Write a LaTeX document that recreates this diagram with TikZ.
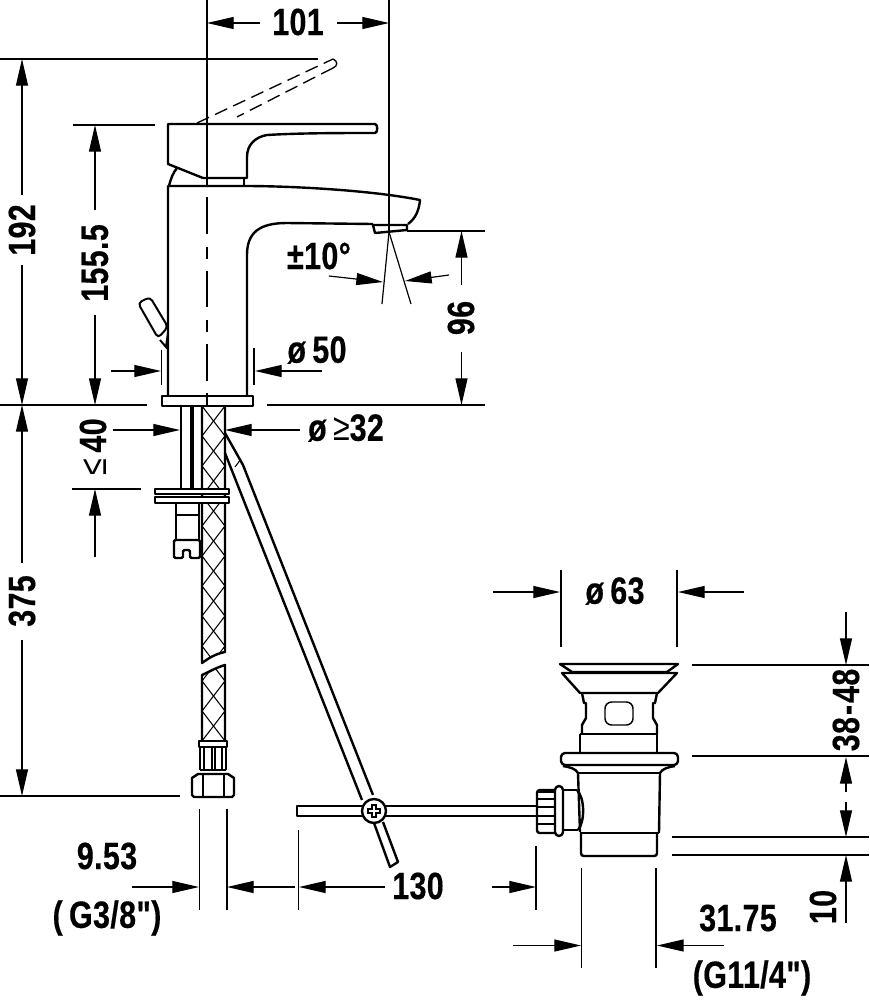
\documentclass[tikz,border=0pt]{standalone}
\usepackage{fontspec}
\setmainfont{Liberation Sans}[Ligatures=TeXOff,FakeStretch=0.8,LetterSpace=1,BoldFeatures={FakeBold=0.4}]
\usetikzlibrary{arrows.meta}
\newcommand{\dimfont}{\fontsize{28.5}{30}\selectfont\bfseries}
\tikzset{
  part/.style={line width=1.8pt,line join=round},
  fine/.style={line width=0.8pt},
  extline/.style={line width=0.9pt},
  dimarrow/.style={line width=0.9pt,-{Triangle[length=20pt,width=9pt]}},
  dimtext/.style={font=\dimfont,inner sep=0pt},
}
\begin{document}
\begin{tikzpicture}[x=0.75pt,y=0.75pt,yscale=-1,xscale=1]
\useasboundingbox (0,0) rectangle (869,1000);

%Extension lines, tap
\draw [extline] (207,0) -- (207,186);
\draw [extline] (389,0) -- (389,232);
\draw [extline] (0,59) -- (318,59);
\draw [extline] (73,125) -- (155,125);
\draw [extline] (0,405) -- (147,405);
\draw [extline] (267,405) -- (485,405);
\draw [extline] (407,231) -- (485,231);
\draw [extline] (161.5,350) -- (161.5,385);
\draw [extline] (254,348) -- (254,385);
\draw [extline] (389,232) -- (382,304);
\draw [extline] (389,232) -- (411,304);
\draw [extline] (72,489) -- (141,489);
\draw [extline] (0,796) -- (180,796);
%Centre line
\draw [extline] (207,197) -- (207,234);
\draw [extline] (207,247) -- (207,259);
\draw [extline] (207,271) -- (207,307);
\draw [extline] (207,320) -- (207,332);
\draw [extline] (207,344) -- (207,381);
\draw [extline] (207,393) -- (207,405);

%Handle, raised position
\draw [fine,line width=1pt,dash pattern={on 10pt off 5pt}] (197,123) -- (333,59);
\draw [fine,line width=1pt] (333,59) .. controls (338,61) and (338,66) .. (333,68);
\draw [fine,line width=1pt,dash pattern={on 10pt off 5pt}] (333,68) -- (237,117);
%Handle
\draw [part] (168,124) -- (375,124) .. controls (378,124) and (378,133) .. (375,133) .. controls (340,133) and (300,133) .. (267,135) .. controls (255,137) and (247,145) .. (247,157) -- (247,178) -- (203,178) -- (168,164) -- cycle;
\draw [part] (244,178) -- (244,186);
\draw [part] (169,186) .. controls (171,178) and (173,173) .. (177,168);
%Body and spout
\draw [part] (247,396) -- (247,255) .. controls (247,232) and (260,223) .. (287,223) -- (373,224);
\draw [part] (168,396) -- (168,186) -- (245,186) .. controls (290,186) and (370,190) .. (420,200) .. controls (419,210) and (416,218) .. (408,224);
\draw [part] (373,225) -- (375,233) -- (407,230) -- (407,225) -- cycle;
\draw [part] (162,396) rectangle (253,406);
%Lift rod knob
\draw [line width=1.5pt,line join=round,rounded corners=3pt] (138,303) -- (150,297) -- (168,327) -- (158,338) -- cycle;
\draw [line width=1.5pt] (160,340) -- (166,347) -- (168,333);

%Rods under the base
\draw [part] (181,406) -- (181,489);
\draw [part] (191,406) -- (191,489);
\draw [part] (193,406) -- (193,489);
%Braided hose
\begin{scope}
\clip (202,406) -- (225,406) -- (225,652) .. controls (215,654) and (209,658) .. (202,663) -- cycle;
\draw [fine] (202,406) -- (225,436) -- (202,466) -- (225,496) -- (202,526) -- (225,556) -- (202,586) -- (225,616) -- (202,646) -- (225,676);
\draw [fine] (225,406) -- (202,436) -- (225,466) -- (202,496) -- (225,526) -- (202,556) -- (225,586) -- (202,616) -- (225,646) -- (202,676);
\end{scope}
\begin{scope}
\clip (202,675) .. controls (209,672) and (215,668) .. (225,665) -- (225,741) -- (202,741) -- cycle;
\draw [fine] (202,651) -- (225,681) -- (202,711) -- (225,741);
\draw [fine] (225,651) -- (202,681) -- (225,711) -- (202,741);
\end{scope}
\draw [part] (202,406) -- (202,663) .. controls (209,658) and (215,654) .. (225,652) -- (225,406);
\draw [part] (202,741) -- (202,675) .. controls (209,672) and (215,668) .. (225,665) -- (225,741);
%Washers
\draw [part,fill=white] (155,489) rectangle (229,494);
\draw [part,fill=white] (155,497) rectangle (229,503);
%Threaded stud
\draw [part] (176,503) -- (176,540);
\draw [part] (199,503) -- (199,540);
\draw [fine] (176,515) -- (199,515);
\draw [part,rounded corners=1pt] (174,540) -- (200,540) -- (200,558) -- (190,558) -- (190,550) -- (183,550) -- (183,558) -- (174,558) -- cycle;
%Hose connection
\draw [part] (199,741) rectangle (227,747);
\draw [part] (200,747) -- (200,770);
\draw [fine] (204,747) -- (204,770);
\draw [part] (212,747) -- (212,770);
\draw [part] (215,747) -- (215,770);
\draw [fine] (222,747) -- (222,770);
\draw [part] (226,747) -- (226,770);
\draw [part] (200,770) -- (226,770);
\draw [part] (198,774) -- (228,774) -- (234,778) -- (234,795) -- (232,797) -- (194,797) -- (192,795) -- (192,778) -- cycle;
\draw [fine] (203,774) -- (203,797);
\draw [fine] (224,774) -- (224,797);

%Pop-up rod
\draw [part] (225,433) -- (243,465) -- (373,795);
\draw [part] (225,453) -- (362,800);
\draw [fine] (235,467) -- (241,459);
\draw [part] (374,823) -- (390,867) -- (398,862) -- (383,822);
\draw [part] (362,806) -- (297,806) -- (297,816) -- (362,816);
\draw [part] (386,806) -- (536,806);
\draw [part] (386,816) -- (536,816);
%Screw
\draw [part,fill=white] (374,811) circle [radius=12];
\draw [fine,line width=1pt] (372,805) -- (376,805) -- (376,809) -- (380,809) -- (380,813) -- (376,813) -- (376,817) -- (372,817) -- (372,813) -- (368,813) -- (368,809) -- (372,809) -- cycle;

%Plug
\draw [part] (560,664) -- (678,664) -- (667,672) -- (572,672) -- cycle;
\draw [part] (562,673) -- (677,673) -- (658,693) -- (580,693) -- cycle;
\draw [part] (582,693) -- (584,703) -- (586,703) -- (586,718) -- (582,725) -- (582,734);
\draw [part] (657,693) -- (655,703) -- (653,703) -- (653,718) -- (657,725) -- (657,734);
\draw [fine,line width=1.1pt,rounded corners=5pt] (605,702) rectangle (633,725);
\draw [part] (580,734) -- (657,734);
\draw [part] (580,734) -- (580,753);
\draw [part] (657,734) -- (657,753);
%Flange
\draw [part,rounded corners=3pt] (561,765) -- (561,753) -- (678,753) -- (678,765) -- cycle;
\draw [part] (563,766) .. controls (570,767) and (576,769) .. (578,773) -- (580,832);
\draw [part] (675,766) .. controls (668,767) and (662,769) .. (660,773) -- (659,833);
\draw [fine,line width=1.1pt] (578,773) -- (660,773);
\draw [fine,line width=1.1pt] (580,833) -- (659,833);
\draw [part,rounded corners=2pt] (581,833) -- (581,856) -- (657,856) -- (657,833);
%Side outlet
\draw [part] (577,790) -- (563,790);
\draw [part] (578,830) -- (563,830);
\draw [part] (577,790) .. controls (585,798) and (585,822) .. (578,830);
\draw [part,rounded corners=3pt] (555,786) rectangle (563,836);
\draw [part,rounded corners=2pt] (555,790) -- (537,790) -- (537,833) -- (555,833);
\draw [part] (537,792) -- (555,792);
\draw [fine] (537,799) -- (555,799);
\draw [fine] (537,807) -- (555,807);
\draw [fine] (537,816) -- (555,816);
\draw [fine] (537,824) -- (555,824);

%Extension lines, waste
\draw [extline] (561,570) -- (561,647);
\draw [extline] (677,570) -- (677,647);
\draw [extline] (692,665) -- (869,665);
\draw [extline] (692,756) -- (869,756);
\draw [extline] (672,837) -- (869,837);
\draw [extline] (672,855) -- (869,855);
\draw [extline] (199.5,809) -- (199.5,910);
\draw [extline] (227,809) -- (227,910);
\draw [extline] (298.5,830) -- (298.5,910);
\draw [extline] (536,846) -- (536,910);
\draw [extline] (581.5,868) -- (581.5,968);
\draw [extline] (656,868) -- (656,968);

%Dimension arrows
\draw [dimarrow] (260,23) -- (207,23);
\draw [dimarrow] (337,23) -- (389,23);
\draw [dimarrow] (22,195) -- (22,59);
\draw [dimarrow] (22,265) -- (22,405);
\draw [dimarrow] (95,210) -- (95,125);
\draw [dimarrow] (95,315) -- (95,405);
\draw [dimarrow] (329,276) -- (383,282);
\draw [dimarrow] (449,275) -- (405,281);
\draw [dimarrow] (461.5,285) -- (461.5,231);
\draw [dimarrow] (461.5,352) -- (461.5,405);
\draw [dimarrow] (111,371) -- (161,371);
\draw [dimarrow] (322,371) -- (255,371);
\draw [dimarrow] (113,430) -- (180,430);
\draw [dimarrow] (300,430) -- (225,430);
\draw [dimarrow] (95,557) -- (95,489);
\draw [dimarrow] (22,563) -- (22,405);
\draw [dimarrow] (22,640) -- (22,796);
\draw [dimarrow] (493,592) -- (560,592);
\draw [dimarrow] (744,592) -- (678,592);
\draw [dimarrow] (846,612) -- (846,665);
\draw [dimarrow] (846,792) -- (846,757);
\draw [dimarrow] (846,802) -- (846,837);
\draw [dimarrow] (846,923) -- (846,855);
\draw [dimarrow] (132,887) -- (199,887);
\draw [dimarrow] (295,887) -- (227,887);
\draw [dimarrow] (385,887) -- (299,887);
\draw [dimarrow] (492,887) -- (536,887);
\draw [dimarrow] (513,945.5) -- (581,945.5);
\draw [dimarrow] (724,945.5) -- (657,945.5);

%Dimension texts
\node [dimtext] (width101) at (298,22) {101};
\node [dimtext,rotate=90] (height192) at (22,230) {192};
\node [dimtext,rotate=90] (height155) at (95,263) {155.5};
\node [dimtext] (swivel10) at (319,256) {±10°};
\node [dimtext,rotate=90] (height96) at (461,318) {96};
\node [dimtext] (dia50) at (317,350) {ø\,50};
\node [dimtext] (dia32) at (346,428) {ø\,{\mdseries≥}32};
\node [dimtext,rotate=90] (thick40) at (93,447) {{\mdseries≤}\,40};
\node [dimtext,rotate=90] (height375) at (22,601) {375};
\node [dimtext] (dia63) at (615,591) {ø\,63};
\node [dimtext,rotate=90] (stroke3848) at (846,710) {38\kern1.5pt-\kern1.5pt48};
\node [dimtext,rotate=90] (height10) at (823,907) {10};
\node [dimtext] (size953) at (107,856) {9.53};
\node [dimtext] (threadG38) at (107,918) {(\,G3/8")};
\node [dimtext] (reach130) at (418,886) {130};
\node [dimtext] (size3175) at (738,918) {31.75};
\node [dimtext] (threadG114) at (752,978) {(G11/4")};
\end{tikzpicture}
\end{document}
